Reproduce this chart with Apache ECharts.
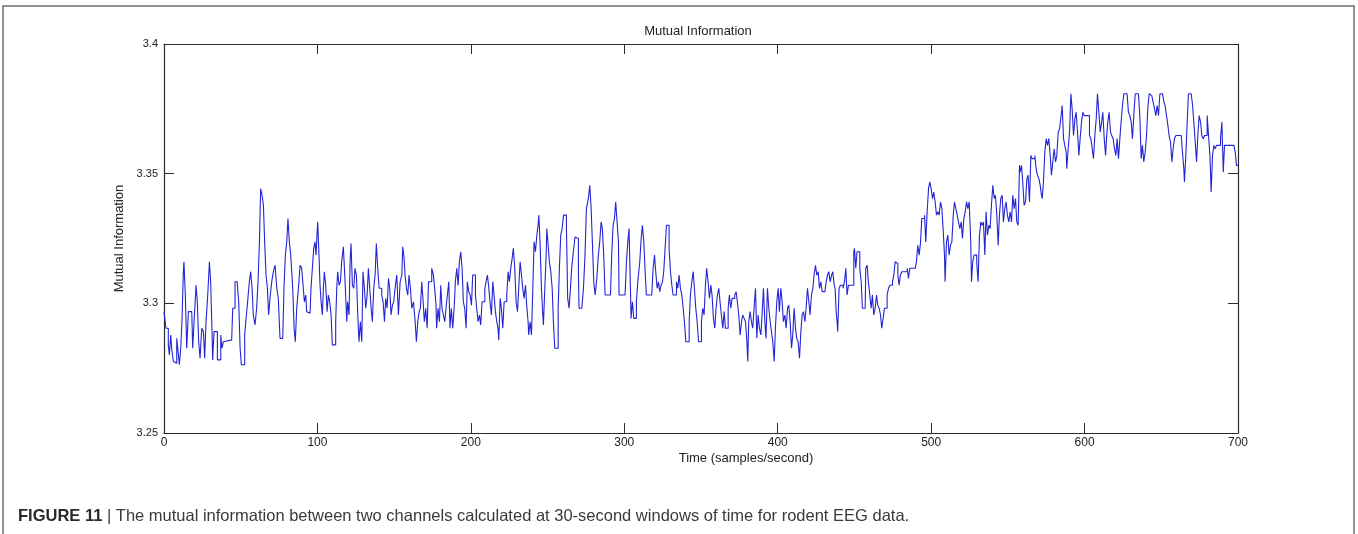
<!DOCTYPE html>
<html><head><meta charset="utf-8">
<script src="https://cdn.jsdelivr.net/npm/echarts/dist/echarts.min.js"></script>
<style>html,body{margin:0;padding:0;background:#fff}#c{width:1358px;height:534px}</style>
</head><body><div id="c"></div>
<script>
const chartTitle = 'Mutual Information';
const xAxisName = 'Time (samples/second)';
const yAxisName = 'Mutual Information';
const captionBold = 'FIGURE 11';
const captionText = ' | The mutual information between two channels calculated at 30-second windows of time for rodent EEG data.';
const xTicks = [0, 100, 200, 300, 400, 500, 600, 700];
const yTicks = [3.25, 3.3, 3.35, 3.4];

const seg1 = [[0,3.2968],[1.3,3.2904],[2.8,3.2840],[3.5,3.2801],[4.4,3.2878],[5,3.2827],[6.1,3.2776],[7.2,3.2769],[8.3,3.2865],[9.4,3.2801],[10,3.2763],[10.9,3.2827],[11.7,3.2929],[12.6,3.3122],[13,3.3160],[13.9,3.3032],[14.8,3.2827],[15.9,3.2968],[18.1,3.2968],[18.7,3.2827],[19.6,3.2929],[20.9,3.3070],[21.7,3.3006],[22.6,3.2852],[23.5,3.2788],[24.6,3.2904],[25.7,3.2891],[26.5,3.2788],[27.4,3.2929],[28.5,3.3032],[29.6,3.3160],[30.4,3.3083],[31.3,3.2891],[31.7,3.2782],[32.6,3.2891],[33.9,3.2891],[34.8,3.2782],[36.1,3.2782],[37,3.2878],[37.8,3.2827],[38.7,3.2852],[39.8,3.2859],[44.1,3.2859],[44.8,3.2981],[46.3,3.3083],[47.8,3.3070],[48.7,3.3006],[49.6,3.2827],[50.4,3.2763],[51.7,3.2763],[52.6,3.2878],[53.5,3.2942],[54.3,3.2993],[55.6,3.3083],[56.5,3.3122],[57.4,3.3058],[58.2,3.2955],[59.3,3.2917],[60.4,3.2981],[61.3,3.3083],[62.2,3.3237],[63,3.3442],[63.9,3.3417],[64.8,3.3378],[65.6,3.3237],[66.5,3.3109],[67.4,3.3058],[68.2,3.2955],[69.1,3.3019],[70.2,3.3083],[71.3,3.3122],[72.4,3.3147],[73.5,3.3058],[74.5,3.3019],[75.6,3.2865],[77.4,3.2865],[78.2,3.3058],[79.1,3.3186],[80,3.3237],[80.8,3.3327],[81.7,3.3237],[82.6,3.3186],[83.9,3.3058],[84.8,3.2904],[85.6,3.2852]];
const seg2 = [[86.5,3.2981],[87.6,3.3058],[88.7,3.3147],[89.7,3.3135],[90.8,3.3058],[91.5,3.3006],[92.4,3.3032],[93,3.2968],[94.1,3.2962],[95.2,3.2962],[95.8,3.3058],[96.7,3.3135],[97.6,3.3212],[98.4,3.3237],[99.1,3.3186],[99.7,3.3263],[100.2,3.3314],[101,3.3186],[101.7,3.3070],[102.4,3.3006],[103.2,3.2955],[103.9,3.3058],[104.5,3.3122],[105.4,3.3070],[106.3,3.2968],[107.1,3.3032],[108,3.3006],[108.9,3.2955],[109.7,3.2840],[111,3.2840],[111.9,3.2929],[112.6,3.3058],[113.2,3.3122],[114.1,3.3070],[115,3.3083],[115.8,3.3160],[116.9,3.3218],[117.6,3.3135],[118.4,3.3032],[119.1,3.2929],[119.7,3.3006],[120.6,3.2955],[121.3,3.3160],[121.9,3.3231],[122.8,3.3070],[123.7,3.3058],[124.5,3.3135],[125.4,3.3109],[126.3,3.2955],[127.1,3.2852],[128,3.2929],[128.9,3.2852],[129.7,3.3122],[130.6,3.3058],[131.5,3.2981],[132.4,3.3032],[133.2,3.3135],[134.1,3.3058],[135,3.2981],[135.8,3.2929],[136.7,3.3058],[137.6,3.3109],[138.4,3.3231],[139.3,3.3135],[140.2,3.3058],[141,3.3058],[141.9,3.3032],[142.8,3.3006],[143.7,3.2929],[144.5,3.3019],[145.4,3.2981],[146.3,3.3096],[147.1,3.3058],[148,3.2955],[148.9,3.2993],[149.7,3.3006],[150.6,3.3058],[151.7,3.3109],[152.8,3.2955],[153.9,3.3083],[155,3.3109],[155.6,3.3218],[156.5,3.3173],[157.1,3.3109],[158,3.3058],[158.9,3.3032],[159.7,3.3109],[160.6,3.3058],[161.5,3.2981],[162.6,3.3006],[163.7,3.2929],[164.5,3.2852],[165.4,3.2929],[166.3,3.2968],[167.1,3.2981],[168,3.3083],[168.9,3.3006],[169.7,3.2929],[170.6,3.2981],[171.5,3.2904],[172.4,3.3083]];
const seg3 = [[173.4,3.3083],[174.5,3.3135],[175.6,3.3109],[176.4,3.3058],[177.3,3.2993],[177.7,3.2904],[178.6,3.2981],[179.5,3.2929],[180.4,3.3070],[181.2,3.2981],[182.1,3.2955],[183,3.2929],[183.8,3.2981],[184.7,3.3032],[185.6,3.3083],[186.4,3.2904],[187.3,3.2981],[188.2,3.2904],[189.1,3.2981],[189.9,3.3083],[190.8,3.3135],[191.7,3.3070],[192.5,3.3160],[193.4,3.3199],[194.3,3.3135],[195.1,3.3006],[196,3.2981],[196.9,3.2904],[197.7,3.3083],[198.6,3.3045],[199.5,3.3032],[200.4,3.2993],[201.2,3.3109],[202.1,3.3109],[203,3.3032],[203.8,3.2981],[204.7,3.2929],[205.6,3.2955],[206.4,3.2917],[207.3,3.3006],[208.2,3.3006],[209.1,3.3058],[209.9,3.3083],[210.8,3.3109],[211.7,3.3058],[212.5,3.3006],[213.4,3.2955],[214.3,3.3083],[215.1,3.3032],[216,3.2968],[216.9,3.2929],[217.7,3.2904],[218.2,3.2859],[219.1,3.3019],[219.9,3.2981],[220.8,3.2904],[221.7,3.3006],[222.5,3.3006],[223.4,3.3032],[224.3,3.3122],[225.1,3.3083],[226,3.3135],[226.9,3.3173],[227.7,3.3212],[228.6,3.3135],[229.5,3.3006],[230.4,3.2968],[231.2,3.3058],[232.1,3.3160],[233,3.3109],[233.8,3.3058],[234.7,3.3019],[235.6,3.3070],[236.4,3.2993],[237.3,3.2929],[237.7,3.2878],[238.6,3.2929],[239.5,3.2878],[240.4,3.3058],[241.2,3.3237],[242.1,3.3199],[243,3.3263],[243.8,3.3301],[244.3,3.3340],[245.1,3.3237],[246,3.3058],[246.9,3.2955],[247.3,3.2917],[248.2,3.3058],[249.1,3.3186],[249.5,3.3288],[250.4,3.3224],[251.2,3.3160],[252.1,3.3122],[253,3.3058],[253.8,3.2929],[254.7,3.2827],[256,3.2827],[256.9,3.2981],[257.7,3.3135],[258.6,3.3263],[259.5,3.3288],[260.4,3.3340]];
const seg4 = [[261.4,3.3340],[262.3,3.3288],[262.7,3.3160],[263.1,3.3019],[264,3.2981],[264.9,3.3058],[265.7,3.3135],[266.8,3.3199],[267.9,3.3256],[269,3.3250],[270.1,3.3122],[270.5,3.2981],[272.3,3.2981],[273.4,3.3058],[274.4,3.3186],[275.3,3.3365],[276.6,3.3404],[277.5,3.3455],[278.4,3.3365],[279.2,3.3237],[280.1,3.3083],[281,3.3032],[282.1,3.3096],[283.1,3.3186],[284,3.3237],[284.9,3.3314],[285.7,3.3288],[286.6,3.3186],[287.5,3.3032],[291,3.3032],[291.8,3.3186],[292.7,3.3301],[293.6,3.3327],[294.4,3.3391],[295.3,3.3314],[296.2,3.3237],[296.6,3.3032],[300.5,3.3032],[301.4,3.3160],[302.3,3.3237],[303.1,3.3288],[304,3.3058],[304.4,3.2942],[305.3,3.3006],[306.2,3.2942],[307,3.2942],[307.9,3.3006],[308.8,3.3083],[310.1,3.3160],[311,3.3250],[311.8,3.3301],[312.7,3.3237],[313.6,3.3122],[314.4,3.3032],[317.9,3.3032],[318.8,3.3135],[319.7,3.3186],[320.5,3.3122],[321.4,3.3058],[322.3,3.3083],[323.1,3.3045],[324,3.3070],[324.9,3.3083],[325.7,3.3122],[326.6,3.3212],[327.5,3.3301],[328.4,3.3301],[329.2,3.3212],[330.1,3.3122],[331,3.3070],[331.8,3.3032],[334,3.3083],[334.9,3.3058],[335.7,3.3109],[336.6,3.3058],[337.5,3.3032],[338.4,3.2981],[339.2,3.2929],[340.1,3.2852],[342.3,3.2929],[343.1,3.3032],[344,3.3083],[344.9,3.3122],[345.7,3.3058],[346.6,3.2981],[347.5,3.2929],[348.4,3.2852]];
const seg5 = [[349.4,3.2852],[350.3,3.2929],[351.1,3.2981],[352,3.2955],[352.9,3.3070],[353.7,3.3135],[354.6,3.3083],[355.5,3.3019],[356.4,3.3070],[357.2,3.3032],[358.1,3.2942],[359,3.2904],[359.8,3.2981],[360.7,3.3032],[361.6,3.3058],[362.4,3.3006],[363.3,3.2955],[364.2,3.2904],[365.1,3.2968],[365.9,3.2904],[366.8,3.2904],[367.7,3.2981],[368.5,3.3032],[369.4,3.2981],[370.3,3.3019],[371.1,3.3019],[372,3.3032],[372.9,3.3045],[373.7,3.3006],[374.6,3.2955],[375.5,3.2878],[376.4,3.2929],[377.2,3.2955],[378.1,3.2942],[379,3.2929],[379.8,3.2865],[380.5,3.2776],[381.1,3.2929],[382,3.2968],[382.9,3.2929],[383.7,3.2904],[384.6,3.2981],[385.5,3.3058],[386.4,3.2865],[387.2,3.2955],[388.1,3.2904],[389,3.2878],[389.8,3.2955],[390.7,3.3058],[391.6,3.2929],[392.4,3.2865],[393.3,3.3058],[394.2,3.2981],[395.1,3.2929],[395.9,3.2891],[396.8,3.2852],[397.7,3.2776],[398.5,3.2904],[399.4,3.3006],[400.3,3.3058],[401.1,3.2968],[402,3.3058],[402.9,3.3006],[403.7,3.2929],[404.6,3.2955],[405.5,3.2904],[406.4,3.2981],[407.2,3.2993],[408.1,3.2929],[409,3.2827],[409.8,3.2878],[410.7,3.2981],[411.6,3.2904],[412.4,3.2865],[413.3,3.2852],[414.2,3.2788],[415.1,3.2891],[415.9,3.2955],[416.8,3.2968],[417.7,3.2929],[418.5,3.2981],[419.4,3.3058],[420.3,3.3006],[421.1,3.2955],[422,3.3032],[422.9,3.3058],[423.7,3.3109],[424.6,3.3147],[425.5,3.3109],[426.4,3.3122],[427.2,3.3058],[428.1,3.3083],[429,3.3045],[429.8,3.3045],[430.7,3.3045],[431.6,3.3083],[432.4,3.3109],[433.3,3.3122],[434.2,3.3083],[435.1,3.3109],[435.9,3.3122],[436.8,3.3070]];
const seg6 = [[437.4,3.3058],[438.1,3.2968],[438.7,3.2929],[439.1,3.2891],[440,3.3058],[440.9,3.3070],[441.7,3.3070],[442.6,3.3058],[443.5,3.3083],[444.4,3.3135],[445.2,3.3032],[446.1,3.3070],[447,3.3070],[447.8,3.3070],[448.7,3.3070],[449.6,3.3199],[450,3.3212],[450.9,3.3135],[451.7,3.3199],[452.6,3.3199],[453.5,3.3135],[454.4,3.3083],[455.2,3.2981],[456.1,3.2981],[457,3.2981],[457.4,3.3135],[458.3,3.3147],[459.1,3.3083],[460,3.3032],[460.9,3.2981],[461.7,3.3032],[462.6,3.2955],[463.5,3.2981],[464.4,3.3032],[465.2,3.2993],[466.1,3.2981],[467,3.2955],[467.8,3.2904],[468.7,3.2942],[469.6,3.2981],[470.4,3.2981],[471.3,3.3032],[472.2,3.3058],[473.1,3.3070],[473.9,3.3070],[474.8,3.3083],[475.7,3.3109],[476.5,3.3160],[477.4,3.3154],[478.3,3.3109],[479.1,3.3070],[480,3.3109],[480.9,3.3122],[481.7,3.3122],[482.6,3.3122],[483.5,3.3122],[484.4,3.3135],[485.2,3.3096],[486.1,3.3135],[487,3.3135],[487.8,3.3135],[488.7,3.3135],[489.6,3.3135],[490.4,3.3160],[491.3,3.3224],[492.2,3.3186],[493.1,3.3237],[493.9,3.3327],[494.8,3.3327],[495.7,3.3340],[496.5,3.3237],[497.4,3.3353],[498.3,3.3442],[499.1,3.3468],[500,3.3442],[500.9,3.3404],[501.7,3.3429],[502.6,3.3391],[503.5,3.3340],[504.4,3.3353],[505.2,3.3340],[506.1,3.3391],[507,3.3365],[507.8,3.3288],[508.7,3.3186],[509.1,3.3083],[510,3.3237],[510.9,3.3263],[511.7,3.3186],[512.6,3.3224],[513.5,3.3237],[514.4,3.3340],[515.2,3.3391],[516.1,3.3365],[517,3.3340],[517.8,3.3314],[518.7,3.3288],[519.6,3.3314],[520.4,3.3250],[521.3,3.3327],[522.2,3.3353],[523.1,3.3391],[523.9,3.3365],[524.8,3.3391]];
const seg7 = [[525.8,3.3237],[526.3,3.3083],[527.1,3.3160],[528,3.3186],[528.9,3.3186],[529.7,3.3160],[530.6,3.3083],[531.5,3.3263],[532.4,3.3314],[533.2,3.3301],[534.1,3.3314],[535,3.3186],[535.8,3.3353],[536.7,3.3263],[537.6,3.3301],[538.4,3.3288],[539.3,3.3378],[540.2,3.3455],[541.1,3.3404],[541.9,3.3417],[542.8,3.3340],[543.7,3.3224],[544.5,3.3340],[545.4,3.3404],[546.3,3.3417],[547.1,3.3314],[548,3.3365],[548.9,3.3391],[549.7,3.3340],[550.6,3.3314],[551.5,3.3353],[552.4,3.3314],[553.2,3.3417],[554.1,3.3365],[555,3.3404],[555.8,3.3314],[556.7,3.3301],[557.6,3.3532],[558,3.3506],[558.9,3.3532],[559.7,3.3468],[560.6,3.3378],[561.5,3.3391],[562.4,3.3481],[563.2,3.3494],[564.1,3.3391],[565,3.3570],[565.8,3.3558],[566.7,3.3558],[567.6,3.3570],[568.4,3.3519],[569.3,3.3494],[570.2,3.3481],[571.1,3.3455],[571.9,3.3417],[572.4,3.3404],[573.2,3.3468],[574.1,3.3583],[575,3.3635],[575.8,3.3609],[576.7,3.3635],[577.6,3.3570],[578.4,3.3494],[579.3,3.3545],[580.2,3.3596],[581.1,3.3545],[581.9,3.3570],[582.8,3.3660],[583.7,3.3673],[584.5,3.3712],[585.4,3.3763],[586.3,3.3635],[587.1,3.3609],[588,3.3583],[588.4,3.3519],[589.3,3.3596],[590.2,3.3660],[591.1,3.3808],[591.9,3.3750],[592.8,3.3647],[593.7,3.3712],[594.5,3.3737],[595.4,3.3660],[596.3,3.3570],[597.1,3.3635],[598,3.3699],[598.9,3.3737],[599.7,3.3724],[600.6,3.3724],[601.5,3.3731],[602.4,3.3724],[603.2,3.3647],[604.1,3.3635],[605,3.3596],[605.8,3.3558],[606.7,3.3647],[607.6,3.3712],[608.4,3.3808],[609.3,3.3737],[610.2,3.3660],[611.1,3.3699],[611.9,3.3737],[612.8,3.3635]];
const seg8 = [[613.7,3.3570],[614.3,3.3635],[615.1,3.3699],[616,3.3737],[616.9,3.3660],[617.7,3.3647],[618.6,3.3635],[619.5,3.3596],[620.4,3.3570],[621.2,3.3635],[622.1,3.3558],[623,3.3635],[623.8,3.3699],[624.7,3.3763],[625.6,3.3808],[626.9,3.3808],[627.7,3.3801],[628.6,3.3737],[629.5,3.3724],[630.4,3.3699],[631.2,3.3635],[632.1,3.3724],[633,3.3808],[634.3,3.3808],[635.1,3.3801],[636,3.3724],[636.9,3.3558],[637.7,3.3609],[638.6,3.3545],[639.5,3.3583],[640.4,3.3647],[641.2,3.3750],[642.1,3.3808],[643,3.3801],[643.8,3.3808],[644.7,3.3776],[645.6,3.3750],[646.4,3.3724],[647.3,3.3763],[648.2,3.3724],[649.1,3.3808],[649.9,3.3808],[650.8,3.3801],[651.7,3.3776],[652.5,3.3763],[653.4,3.3724],[654.3,3.3686],[655.1,3.3647],[656,3.3622],[656.9,3.3545],[657.7,3.3596],[658.6,3.3635],[659.5,3.3647],[663,3.3647],[663.8,3.3583],[664.7,3.3519],[665.1,3.3468],[666,3.3570],[666.9,3.3699],[667.7,3.3808],[669.5,3.3808],[670.4,3.3763],[671.2,3.3699],[672.1,3.3622],[673,3.3545],[673.8,3.3647],[674.7,3.3724],[675.6,3.3699],[676.4,3.3647],[677.3,3.3635],[678.2,3.3647],[679.1,3.3647],[679.9,3.3724],[680.8,3.3647],[681.7,3.3570],[682.5,3.3429],[683.4,3.3570],[684.3,3.3609],[685.1,3.3596],[686,3.3609],[688.6,3.3635],[689.5,3.3699],[690.4,3.3506],[691.2,3.3609],[697.3,3.3609],[698.2,3.3583],[699,3.3532],[700,3.3532]];

const miData = [].concat(seg1, seg2, seg3, seg4, seg5, seg6, seg7, seg8);

const FONT = '"Liberation Sans", Arial, sans-serif';
const AX = '#2b2b2b';
const yFmt = v => String(+(+v).toFixed(2));

function axisCommon(showLabel, labelOpts) {
  return {
    axisLine: { show: true, onZero: false, lineStyle: { color: AX, width: 1.2 } },
    axisTick: { show: true, inside: true, length: 10, lineStyle: { color: AX, width: 1 } },
    splitLine: { show: false },
    axisLabel: Object.assign({ show: showLabel, fontFamily: FONT, color: '#222' }, labelOpts || {})
  };
}

const chart = echarts.init(document.getElementById('c'), null, { renderer: 'canvas' });
chart.setOption({
  animation: false,
  backgroundColor: '#ffffff',
  grid: { left: 164, right: 120, top: 44, bottom: 101, containLabel: false, outerBoundsMode: 'none' },
  xAxis: [
    Object.assign({ type: 'value', position: 'bottom', min: xTicks[0], max: xTicks[xTicks.length - 1], interval: 100 },
      axisCommon(true, { fontSize: 12, margin: 4 })),
    Object.assign({ type: 'value', position: 'top', min: xTicks[0], max: xTicks[xTicks.length - 1], interval: 100 },
      axisCommon(false))
  ],
  yAxis: [
    Object.assign({ type: 'value', position: 'left', min: yTicks[0], max: yTicks[yTicks.length - 1], interval: 0.05,
      name: yAxisName, nameLocation: 'middle', nameGap: 34, nameRotate: 90,
      nameTextStyle: { fontFamily: FONT, fontSize: 13, color: '#222' } },
      axisCommon(true, { fontSize: 11, margin: 6, formatter: yFmt })),
    Object.assign({ type: 'value', position: 'right', min: yTicks[0], max: yTicks[yTicks.length - 1], interval: 0.05 },
      axisCommon(false))
  ],
  series: [{
    type: 'line',
    data: miData,
    step: 'end',
    showSymbol: false,
    symbol: 'none',
    lineStyle: { color: '#2424d4', width: 1.1 },
    emphasis: { disabled: true }
  }],
  graphic: [
    { type: 'rect', silent: true, z: -1,
      shape: { x: 3, y: 6, width: 1351, height: 560 },
      style: { fill: 'none', stroke: '#6e6e6e', lineWidth: 1.5 } },
    { type: 'text', x: 698, y: 31, silent: true,
      style: { text: chartTitle, font: '13px ' + FONT, fill: '#222', textAlign: 'center', textVerticalAlign: 'middle' } },
    { type: 'text', x: 746, y: 458, silent: true,
      style: { text: xAxisName, font: '13px ' + FONT, fill: '#222', textAlign: 'center', textVerticalAlign: 'middle' } },
    { type: 'text', x: 18, y: 516, silent: true,
      style: {
        text: '{b|' + captionBold + '}{n|' + captionText + '}',
        textVerticalAlign: 'middle',
        rich: {
          b: { font: 'bold 16.5px ' + FONT, fill: '#2a2a2a' },
          n: { font: '16.5px ' + FONT, fill: '#3a3a3a' }
        }
      } }
  ]
});
</script>
</body></html>
